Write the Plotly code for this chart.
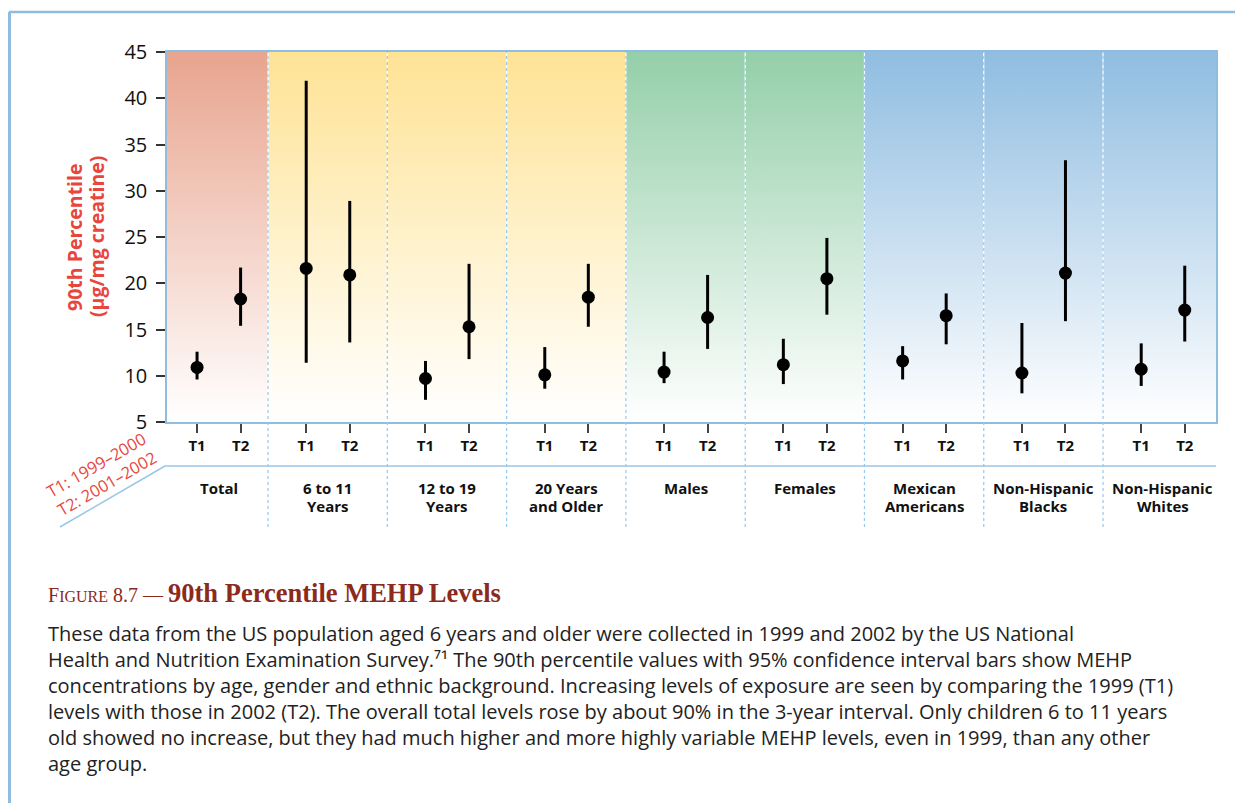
import plotly.graph_objects as go

# --- data ---
groups = ["Total", "6 to 11<br>Years", "12 to 19<br>Years", "20 Years<br>and Older",
          "Males", "Females", "Mexican<br>Americans", "Non-Hispanic<br>Blacks", "Non-Hispanic<br>Whites"]

t1_val = [10.9, 21.6, 9.7, 10.1, 10.4, 11.2, 11.6, 10.3, 10.7]
t1_hi = [12.6, 41.9, 11.6, 13.1, 12.6, 14.0, 13.2, 15.7, 13.5]
t1_lo = [9.6, 11.4, 7.4, 8.6, 9.2, 9.1, 9.6, 8.1, 8.9]

t2_val = [18.3, 20.9, 15.3, 18.5, 16.3, 20.5, 16.5, 21.1, 17.1]
t2_hi = [21.7, 28.9, 22.1, 22.1, 20.9, 24.9, 18.9, 33.3, 21.9]
t2_lo = [15.4, 13.6, 11.8, 15.3, 12.9, 16.6, 13.4, 15.9, 13.7]

band_colors = ["#e8a48e", "#fee395", "#fee395", "#fee395",
               "#94cfa9", "#94cfa9", "#90bde1", "#90bde1", "#90bde1"]

caption = [
    "These data from the US population aged 6 years and older were collected in 1999 and 2002 by the US National",
    "Health and Nutrition Examination Survey.⁷¹ The 90th percentile values with 95% confidence interval bars show MEHP",
    "concentrations by age, gender and ethnic background. Increasing levels of exposure are seen by comparing the 1999 (T1)",
    "levels with those in 2002 (T2). The overall total levels rose by about 90% in the 3-year interval. Only children 6 to 11 years",
    "old showed no increase, but they had much higher and more highly variable MEHP levels, even in 1999, than any other",
    "age group.",
]

# --- layout geometry (screen pixels; page body has an 8px margin) ---
OFF = 8
W, H = 1243 - OFF, 803 - OFF
PL, PR, PT, PB = 167, 1216, 52, 422
edges = [0.153, 1, 2, 3, 4, 5, 6, 7, 8, 8.947]
centers = [0.585] + [i + 0.5 for i in range(1, 9)]
x1 = [c - 0.18 for c in centers]
x2 = [c + 0.185 for c in centers]

def px(x):
    return (x - PL) / (PR - PL)

def py(y):
    return (PB - y) / (PB - PT)

BLUE = "#8fbde0"
RED = "#e8463c"
FONT = "Open Sans"

fig = go.Figure()

# gradient background bands
for i, col in enumerate(band_colors):
    fig.add_trace(go.Scatter(
        x=[edges[i], edges[i + 1], edges[i + 1], edges[i], edges[i]],
        y=[5, 5, 45, 45, 5], mode="lines", line=dict(width=0),
        fill="toself",
        fillgradient=dict(type="vertical", start=5, stop=45,
                          colorscale=[[0, "#ffffff"], [1, col]]),
        showlegend=False, hoverinfo="skip"))

# group dividers
for e in edges[1:-1]:
    fig.add_shape(type="line", xref="x", yref="paper", x0=e, x1=e, y0=0, y1=1,
                  line=dict(color="white", width=1.2))
    fig.add_shape(type="line", xref="x", yref="paper", x0=e, x1=e, y0=py(527), y1=1,
                  line=dict(color="#9cc6e6", width=1.2, dash="dot"))

# points with 95% CI
for xs, v, hi, lo in [(x1, t1_val, t1_hi, t1_lo), (x2, t2_val, t2_hi, t2_lo)]:
    fig.add_trace(go.Scatter(
        x=xs, y=v, mode="markers",
        marker=dict(color="black", size=13),
        error_y=dict(type="data", symmetric=False,
                     array=[h - a for h, a in zip(hi, v)],
                     arrayminus=[a - l for a, l in zip(v, lo)],
                     width=0, thickness=3, color="black"),
        showlegend=False))

# header row lines
fig.add_shape(type="line", xref="paper", yref="paper", x0=px(165), x1=1, y0=py(466), y1=py(466),
              line=dict(color="#9cc6e6", width=1.5))
fig.add_shape(type="line", xref="paper", yref="paper", x0=px(60), x1=px(165), y0=py(527), y1=py(466),
              line=dict(color="#9cc6e6", width=1.5))

# outer frame
fig.add_shape(type="line", xref="paper", yref="paper", x0=px(9), x1=px(1250), y0=py(12), y1=py(12),
              line=dict(color=BLUE, width=2.5))
fig.add_shape(type="line", xref="paper", yref="paper", x0=px(9.5), x1=px(9.5), y0=py(12), y1=py(810),
              line=dict(color=BLUE, width=3))

# group labels (one annotation per line for tight spacing)
for c, g in zip(centers, groups):
    for k, part in enumerate(g.split("<br>")):
        fig.add_annotation(x=c, xref="x", y=py(488 + 18 * k), yref="paper", text="<b>" + part + "</b>",
                           showarrow=False, yanchor="middle", xanchor="center",
                           font=dict(family=FONT, size=15, color="#111"))

fig.add_annotation(x=px(101), y=py(474), xref="paper", yref="paper", xanchor="center", yanchor="middle",
                   text="T1: 1999–2000<br>T2: 2001–2002", textangle=-30, showarrow=False,
                   font=dict(family=FONT, size=16.5, color=RED))

fig.add_annotation(x=px(74), y=py(237), xref="paper", yref="paper", xanchor="center", yanchor="middle",
                   text="<b>90th Percentile</b>", textangle=-90, showarrow=False,
                   font=dict(family=FONT, size=19.5, color=RED))
fig.add_annotation(x=px(96), y=py(237), xref="paper", yref="paper", xanchor="center", yanchor="middle",
                   text="<b>(µg/mg creatine)</b>", textangle=-90, showarrow=False,
                   font=dict(family=FONT, size=19.5, color=RED))

# figure title and caption
fig.add_annotation(x=px(46), y=py(593), xref="paper", yref="paper", xanchor="left", yanchor="middle",
                   text="<span style='font-size:20px'>F</span><span style='font-size:16px'>IGURE</span>"
                        "<span style='font-size:20px'> 8.7 — </span><b>90th Percentile MEHP Levels</b>",
                   showarrow=False, font=dict(family="Liberation Serif", size=26.5, color="#8c2a1c"))
fig.add_annotation(x=px(46), y=py(618), xref="paper", yref="paper",
                   xanchor="left", yanchor="top", align="left", text="<br>".join(caption),
                   showarrow=False, font=dict(family=FONT, size=20, color="#222"))

fig.update_layout(
    width=W, height=H, margin=dict(l=PL - OFF, r=1243 - PR, t=PT - OFF, b=803 - PB),
    paper_bgcolor="white", plot_bgcolor="white",
    xaxis=dict(range=[edges[0], edges[-1]], tickvals=x1 + x2,
               ticktext=["T1"] * len(x1) + ["T2"] * len(x2),
               ticks="outside", ticklen=9, tickwidth=1.5, tickcolor="#444",
               tickfont=dict(family=FONT, size=15, color="#111", weight="bold"),
               showgrid=False, zeroline=False, showline=True, linecolor=BLUE,
               linewidth=1.5, mirror=True),
    yaxis=dict(range=[5, 45], tickvals=list(range(5, 46, 5)),
               ticks="outside", ticklen=9, tickwidth=1.5, tickcolor="#333",
               ticklabelstandoff=5,
               tickfont=dict(family=FONT, size=20, color="#111"),
               showgrid=False, zeroline=False, showline=True, linecolor=BLUE,
               linewidth=1.5, mirror=True),
)

fig.write_html("out.html")
